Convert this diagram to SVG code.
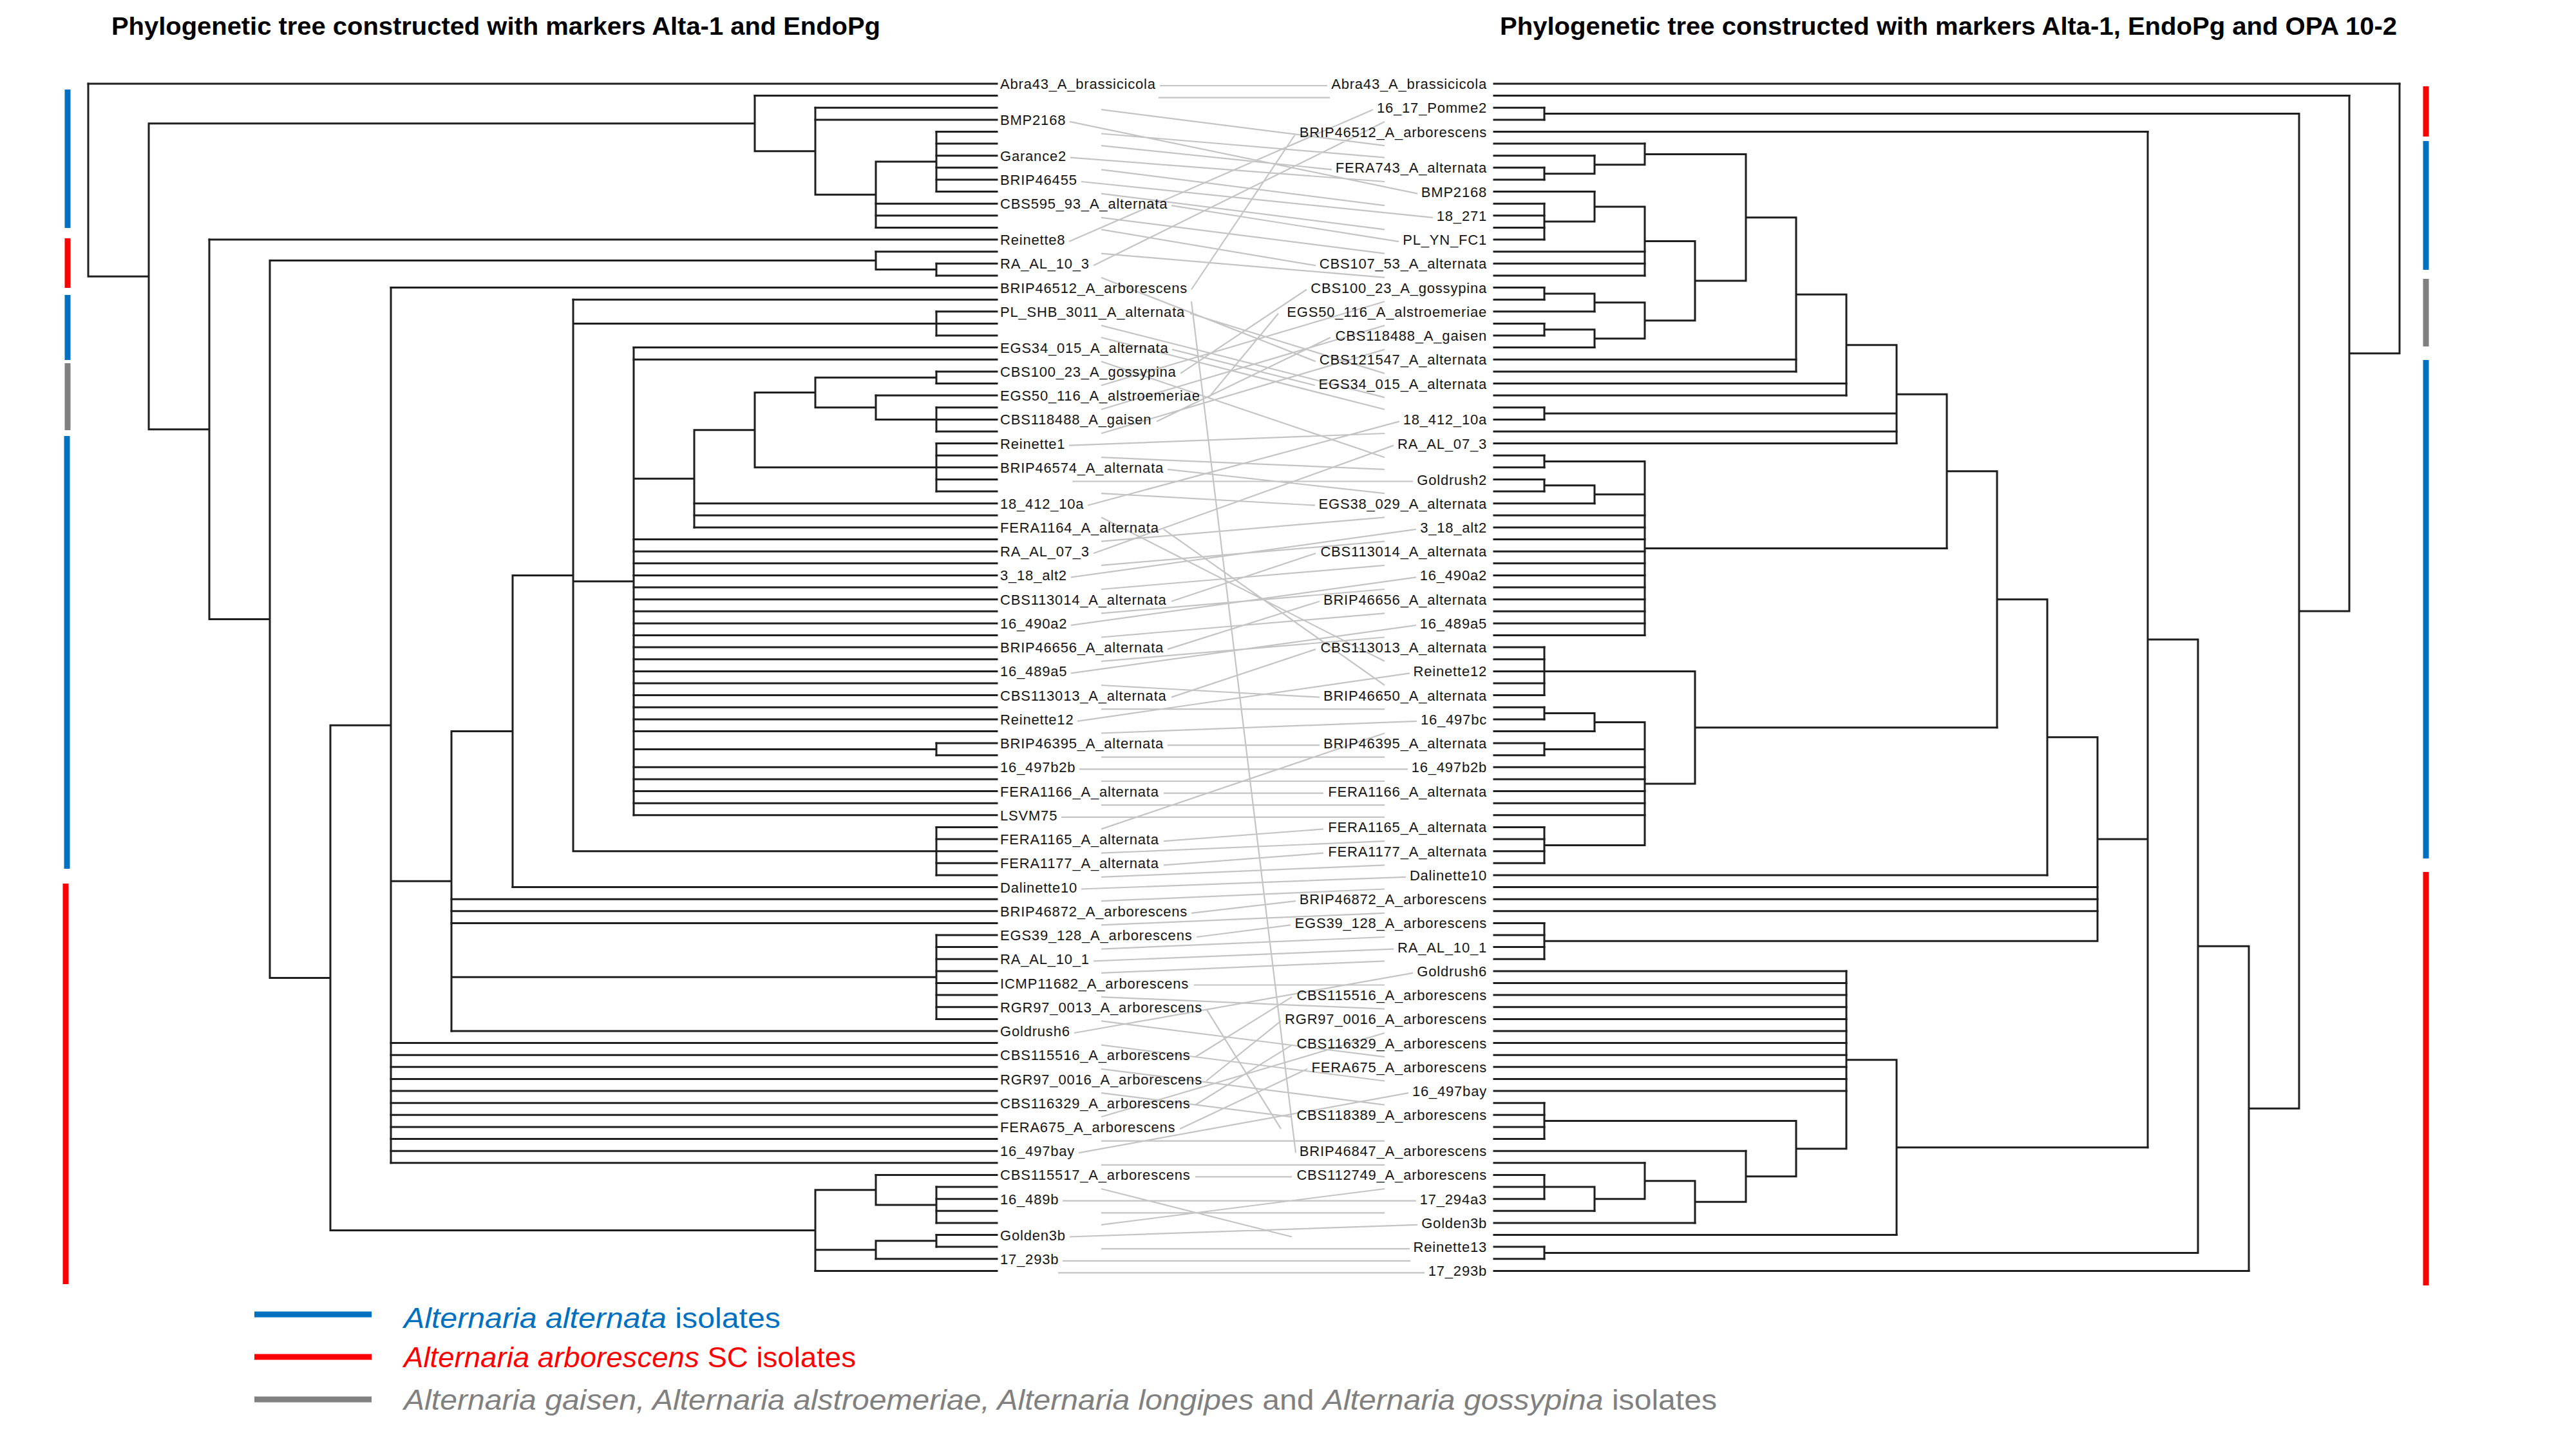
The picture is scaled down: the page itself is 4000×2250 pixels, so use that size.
<svg xmlns="http://www.w3.org/2000/svg" width="4000" height="2250" viewBox="0 0 4000 2250">
<style>
.tr{fill:none;stroke:#1e1e1e;stroke-width:3;stroke-linecap:square}
.cn{fill:none;stroke:#c4c4c4;stroke-width:2.2}
.lb{font-family:"Liberation Sans",Arial,sans-serif;font-size:22px;letter-spacing:0.8px;fill:#141414}
.rl{text-anchor:end}
.ttl{font-family:"Liberation Sans",Arial,sans-serif;font-weight:bold;font-size:38px;fill:#000}
.lg{font-family:"Liberation Sans",Arial,sans-serif;font-size:44px}
.it{font-style:italic}
.bar{stroke-width:9;fill:none}
.blue{stroke:#0070C0}.red{stroke:#FF0000}.grey{stroke:#808080}
</style>
<rect width="4000" height="2250" fill="#fff"/>
<g id="titles">
<text class="ttl" x="173" y="54" textLength="1194" lengthAdjust="spacingAndGlyphs">Phylogenetic tree constructed with markers Alta-1 and EndoPg</text>
<text class="ttl" x="2329" y="54" textLength="1393" lengthAdjust="spacingAndGlyphs">Phylogenetic tree constructed with markers Alta-1, EndoPg and OPA 10-2</text>
</g>
<g id="connectors" class="cn">
<path d="M1801 133L2061 133M1799 151.6L2065 151.6M1710 170.2L2150 226.1M1661 188.9L2201 300.6M1710 207.5L2150 244.7M1710 226.1L2068 263.3M1662 244.7L2150 282M1710 263.3L2150 319.2M1679 282L2225 337.8M1710 300.6L2150 356.4M1819 319.2L2172 375.1M1710 337.8L2150 393.7M1710 356.4L2043 412.3M1660 375.1L2132 170.2M1710 393.7L2150 430.9M1698 412.3L2150 188.9M1710 430.9L2043 561.3M1850 449.5L2012 207.5M1850 468.2L2012 1790.2M1848 486.8L2150 579.9M1710 505.4L2150 617.1M1710 524L2150 635.7M1820 542.6L2042 598.5M1710 561.3L2150 710.2M1833 579.9L2029 449.5M1710 598.5L2150 468.2M1877 617.1L1985 486.8M1710 635.7L2150 505.4M1796 654.4L2066 524M1710 673L2150 542.6M1660 691.6L2150 673M1710 710.2L2150 728.8M1813 728.8L2150 766.1M1665 747.5L2194 747.5M1710 766.1L2042 784.7M1689 784.7L2173 654.4M1710 803.3L2150 1026.8M1807 821.9L2150 1064M1710 840.6L2150 803.3M1698 859.2L2164 691.6M1710 877.8L2150 840.6M1663 896.4L2199 821.9M1710 915L2150 877.8M1819 933.7L2043 859.2M1710 952.3L2150 915M1663 970.9L2199 896.4M1710 989.5L2150 952.3M1813 1008.1L2049 933.7M1710 1026.8L2150 989.5M1663 1045.4L2199 970.9M1710 1064L2049 1082.6M1819 1082.6L2043 1008.1M1710 1101.2L2150 1101.2M1673 1119.9L2189 1045.4M1710 1138.5L2200 1119.9M1813 1157.1L2049 1157.1M1710 1175.7L2150 1175.7M1676 1194.3L2186 1194.3M1710 1213L2150 1213M1807 1231.6L2055 1231.6M1710 1250.2L2150 1250.2M1648 1268.8L2150 1268.8M1710 1287.4L2150 1138.5M1807 1306.1L2055 1287.4M1710 1324.7L2150 1306.1M1807 1343.3L2055 1324.7M1710 1361.9L2150 1343.3M1679 1380.5L2183 1361.9M1710 1399.2L2150 1380.5M1850 1417.8L2012 1399.2M1710 1436.4L2150 1417.8M1858 1455L2004 1436.4M1710 1473.6L2150 1455M1698 1492.3L2164 1473.6M1710 1510.9L2150 1492.3M1854 1529.5L2150 1529.5M1710 1548.1L2150 1566.7M1873 1566.7L1989 1752.9M1710 1585.4L2150 1641.2M1668 1604L2194 1510.9M1710 1622.6L2150 1678.5M1856 1641.2L2006 1548.1M1710 1659.8L2150 1715.7M1873 1678.5L1989 1585.4M1710 1697.1L2006 1734.3M1856 1715.7L2006 1622.6M1710 1734.3L2150 1604M1832 1752.9L2030 1659.8M1710 1771.6L2150 1771.6M1675 1790.2L2187 1697.1M1710 1808.8L2150 1808.8M1856 1827.4L2006 1827.4M1710 1846L2006 1920.5M1650 1864.7L2199 1864.7M1710 1883.3L2150 1883.3M1710 1901.9L2150 1846M1661 1920.5L2201 1901.9M1710 1939.1L2189 1939.1M1650 1957.8L2190 1957.8M1643 1976.4L2212 1976.4"/>
</g>
<g id="left-tree" class="tr">
<path d="M137 130H1548M1172 148.6H1548M1266 167.2H1548M1266 185.9H1548M1454 204.5H1548M1454 223.1H1548M1454 241.7H1548M1454 260.3H1548M1454 279H1548M1454 297.6H1548M1360 316.2H1548M1360 334.8H1548M1360 353.4H1548M325 372.1H1548M1360 390.7H1548M1454 409.3H1548M1454 427.9H1548M607 446.5H1548M890 465.2H1548M1454 483.8H1548M1454 502.4H1548M1454 521H1548M984 539.6H1548M984 558.3H1548M1454 576.9H1548M1454 595.5H1548M1360 614.1H1548M1454 632.7H1548M1454 651.4H1548M1454 670H1548M1454 688.6H1548M1454 707.2H1548M1454 725.8H1548M1454 744.5H1548M1454 763.1H1548M1078 781.7H1548M1078 800.3H1548M1078 818.9H1548"/>
<path d="M984 837.6H1548M984 856.2H1548M984 874.8H1548M984 893.4H1548M984 912H1548M984 930.7H1548M984 949.3H1548M984 967.9H1548M984 986.5H1548M984 1005.1H1548M984 1023.8H1548M984 1042.4H1548M984 1061H1548M984 1079.6H1548M984 1098.2H1548M984 1116.9H1548M984 1135.5H1548M1454 1154.1H1548M1454 1172.7H1548M984 1191.3H1548M984 1210H1548M984 1228.6H1548M984 1247.2H1548M984 1265.8H1548M1454 1284.4H1548M1454 1303.1H1548M1454 1321.7H1548M1454 1340.3H1548M1454 1358.9H1548M796 1377.5H1548M701 1396.2H1548M701 1414.8H1548M701 1433.4H1548"/>
<path d="M1454 1452H1548M1454 1470.6H1548M1454 1489.3H1548M1454 1507.9H1548M1454 1526.5H1548M1454 1545.1H1548M1454 1563.7H1548M1454 1582.4H1548M701 1601H1548M607 1619.6H1548M607 1638.2H1548M607 1656.8H1548M607 1675.5H1548M607 1694.1H1548M607 1712.7H1548M607 1731.3H1548M607 1749.9H1548M607 1768.6H1548M607 1787.2H1548M607 1805.8H1548M1360 1824.4H1548M1454 1843H1548M1454 1861.7H1548M1454 1880.3H1548M1454 1898.9H1548M1454 1917.5H1548M1454 1936.1H1548M1360 1954.8H1548M1266 1973.4H1548"/>
<path d="M137 130V429.2M137 429.2H231M231 191.7V666.8M231 191.7H1172M1172 148.6V234.7M1172 234.7H1266M1266 167.2V302.2M1266 302.2H1360M1360 251V353.4M1360 251H1454M1454 204.5V297.6M231 666.8H325M325 372.1V961.5M325 961.5H419M419 404.6V1518.4M419 404.6H1360M1360 390.7V418.6M1360 418.6H1454M1454 409.3V427.9M419 1518.4H513M513 1126.2V1910.5M513 1126.2H607M607 446.5V1805.8M607 1368.2H701M701 1135.5V1601M701 1135.5H796M796 893.4V1377.5M796 893.4H890M890 465.2V1321.7M890 502.4H1454M1454 483.8V521M890 902.7H984M984 539.6V1265.8M984 743.3H1078M1078 667.7V818.9M1078 667.7H1172M1172 609.5V725.8M1172 609.5H1266M1266 586.2V632.7M1266 586.2H1454M1454 576.9V595.5M1266 632.7H1360M1360 614.1V651.4M1360 651.4H1454M1454 632.7V670M1172 725.8H1454M1454 688.6V763.1M984 1163.4H1454M1454 1154.1V1172.7M890 1321.7H1454M1454 1284.4V1358.9M701 1517.2H1454M1454 1452V1582.4M513 1910.5H1266M1266 1847.7V1973.4M1266 1847.7H1360M1360 1824.4V1871M1360 1871H1454M1454 1843V1898.9M1266 1940.8H1360M1360 1926.8V1954.8M1360 1926.8H1454M1454 1917.5V1936.1"/>
</g>
<g id="right-tree" class="tr">
<path d="M2320 130H3726M2320 148.6H3648M2320 167.2H2398M2320 185.9H2398M2320 204.5H3335M2320 223.1H2554M2320 241.7H2476M2320 260.3H2398M2320 279H2398M2320 297.6H2476M2320 316.2H2398M2320 334.8H2398M2320 353.4H2398M2320 372.1H2398M2320 390.7H2554M2320 409.3H2554M2320 427.9H2554M2320 446.5H2398M2320 465.2H2398M2320 483.8H2476M2320 502.4H2398M2320 521H2398M2320 539.6H2476M2320 558.3H2789M2320 576.9H2789M2320 595.5H2867M2320 614.1H2867M2320 632.7H2398M2320 651.4H2398M2320 670H2945M2320 688.6H2945M2320 707.2H2398M2320 725.8H2398M2320 744.5H2398M2320 763.1H2398M2320 781.7H2476"/>
<path d="M2320 800.3H2554M2320 818.9H2554M2320 837.6H2554M2320 856.2H2554M2320 874.8H2554M2320 893.4H2554M2320 912H2554M2320 930.7H2554M2320 949.3H2554M2320 967.9H2554M2320 986.5H2554M2320 1005.1H2398M2320 1023.8H2398M2320 1042.4H2398M2320 1061H2398M2320 1079.6H2398M2320 1098.2H2398M2320 1116.9H2398M2320 1135.5H2476M2320 1154.1H2398M2320 1172.7H2398M2320 1191.3H2554M2320 1210H2554M2320 1228.6H2554M2320 1247.2H2554M2320 1265.8H2554M2320 1284.4H2398M2320 1303.1H2398M2320 1321.7H2398M2320 1340.3H2398M2320 1358.9H3179M2320 1377.5H3257M2320 1396.2H3257M2320 1414.8H3257M2320 1433.4H2398M2320 1452H2398M2320 1470.6H2398M2320 1489.3H2398"/>
<path d="M2320 1507.9H2867M2320 1526.5H2867M2320 1545.1H2867M2320 1563.7H2867M2320 1582.4H2867M2320 1601H2867M2320 1619.6H2867M2320 1638.2H2867M2320 1656.8H2867M2320 1675.5H2867M2320 1694.1H2867M2320 1712.7H2398M2320 1731.3H2398M2320 1749.9H2398M2320 1768.6H2398M2320 1787.2H2711M2320 1805.8H2554M2320 1824.4H2398M2320 1843H2398M2320 1861.7H2398M2320 1880.3H2476M2320 1898.9H2632M2320 1917.5H2945M2320 1936.1H2398M2320 1954.8H2398M2320 1973.4H3492"/>
<path d="M3726 130V548.8M3648 548.8H3726M3648 148.6V948.9M3570 948.9H3648M3570 176.6V1721.3M2398 176.6H3570M2398 167.2V185.9M3492 1721.3H3570M3492 1469.3V1973.4M3413 1469.3H3492M3413 993V1945.5M2398 1945.5H3413M2398 1936.1V1954.8M3335 993H3413M3335 204.5V1781.7M3257 1303.1H3335M3257 1144.8V1461.3M2398 1461.3H3257M2398 1433.4V1489.3M3179 1144.8H3257M3179 930.7V1358.9M3101 930.7H3179M3101 731.8V1129.7M3023 731.8H3101M3023 612.2V851.5M2945 612.2H3023M2945 535.7V688.6M2398 642.1H2945M2398 632.7V651.4M2867 535.7H2945M2867 457.3V614.1M2789 457.3H2867M2789 337.7V576.9M2711 337.7H2789M2711 239.4V436.1M2554 239.4H2711M2554 223.1V255.7M2476 255.7H2554M2476 241.7V269.7M2398 269.7H2476M2398 260.3V279M2632 436.1H2711M2632 374.4V497.7M2554 374.4H2632M2554 320.9V427.9M2476 320.9H2554M2476 297.6V344.1M2398 344.1H2476M2398 316.2V372.1M2554 497.7H2632M2554 469.8V525.7M2476 469.8H2554M2476 455.9V483.8M2398 455.9H2476M2398 446.5V465.2M2476 525.7H2554M2476 511.7V539.6M2398 511.7H2476M2398 502.4V521"/>
<path d="M2554 851.5H3023M2554 716.5V986.5M2398 716.5H2554M2398 707.2V725.8M2476 767.7H2554M2476 753.8V781.7M2398 753.8H2476M2398 744.5V763.1M2632 1129.7H3101M2632 1042.4V1216.9M2398 1042.4H2632M2398 1005.1V1079.6M2554 1216.9H2632M2554 1121.5V1312.4M2476 1121.5H2554M2476 1107.6V1135.5M2398 1107.6H2476M2398 1098.2V1116.9M2398 1163.4H2554M2398 1154.1V1172.7M2398 1312.4H2554M2398 1284.4V1340.3M2945 1781.7H3335M2945 1645.8V1917.5M2867 1645.8H2945M2867 1507.9V1783.7M2789 1783.7H2867M2789 1740.6V1826.7M2398 1740.6H2789M2398 1712.7V1768.6M2711 1826.7H2789M2711 1787.2V1866.3M2632 1866.3H2711M2632 1833.7V1898.9M2554 1833.7H2632M2554 1805.8V1861.7M2476 1861.7H2554M2476 1843V1880.3M2398 1843H2476M2398 1824.4V1861.7"/>
</g>
<g id="left-labels" class="lb">
<text id="L00" x="1553" y="138">Abra43_A_brassicicola</text>
<text id="L03" x="1553" y="193.9">BMP2168</text>
<text id="L06" x="1553" y="249.7">Garance2</text>
<text id="L08" x="1553" y="287">BRIP46455</text>
<text id="L10" x="1553" y="324.2">CBS595_93_A_alternata</text>
<text id="L13" x="1553" y="380.1">Reinette8</text>
<text id="L15" x="1553" y="417.3">RA_AL_10_3</text>
<text id="L17" x="1553" y="454.5">BRIP46512_A_arborescens</text>
<text id="L19" x="1553" y="491.8">PL_SHB_3011_A_alternata</text>
<text id="L22" x="1553" y="547.6">EGS34_015_A_alternata</text>
<text id="L24" x="1553" y="584.9">CBS100_23_A_gossypina</text>
<text id="L26" x="1553" y="622.1">EGS50_116_A_alstroemeriae</text>
<text id="L28" x="1553" y="659.4">CBS118488_A_gaisen</text>
<text id="L30" x="1553" y="696.6">Reinette1</text>
<text id="L32" x="1553" y="733.8">BRIP46574_A_alternata</text>
<text id="L35" x="1553" y="789.7">18_412_10a</text>
<text id="L37" x="1553" y="826.9">FERA1164_A_alternata</text>
<text id="L39" x="1553" y="864.2">RA_AL_07_3</text>
<text id="L41" x="1553" y="901.4">3_18_alt2</text>
<text id="L43" x="1553" y="938.7">CBS113014_A_alternata</text>
<text id="L45" x="1553" y="975.9">16_490a2</text>
<text id="L47" x="1553" y="1013.1">BRIP46656_A_alternata</text>
<text id="L49" x="1553" y="1050.4">16_489a5</text>
<text id="L51" x="1553" y="1087.6">CBS113013_A_alternata</text>
<text id="L53" x="1553" y="1124.9">Reinette12</text>
<text id="L55" x="1553" y="1162.1">BRIP46395_A_alternata</text>
<text id="L57" x="1553" y="1199.3">16_497b2b</text>
<text id="L59" x="1553" y="1236.6">FERA1166_A_alternata</text>
<text id="L61" x="1553" y="1273.8">LSVM75</text>
<text id="L63" x="1553" y="1311.1">FERA1165_A_alternata</text>
<text id="L65" x="1553" y="1348.3">FERA1177_A_alternata</text>
<text id="L67" x="1553" y="1385.5">Dalinette10</text>
<text id="L69" x="1553" y="1422.8">BRIP46872_A_arborescens</text>
<text id="L71" x="1553" y="1460">EGS39_128_A_arborescens</text>
<text id="L73" x="1553" y="1497.3">RA_AL_10_1</text>
<text id="L75" x="1553" y="1534.5">ICMP11682_A_arborescens</text>
<text id="L77" x="1553" y="1571.7">RGR97_0013_A_arborescens</text>
<text id="L79" x="1553" y="1609">Goldrush6</text>
<text id="L81" x="1553" y="1646.2">CBS115516_A_arborescens</text>
<text id="L83" x="1553" y="1683.5">RGR97_0016_A_arborescens</text>
<text id="L85" x="1553" y="1720.7">CBS116329_A_arborescens</text>
<text id="L87" x="1553" y="1757.9">FERA675_A_arborescens</text>
<text id="L89" x="1553" y="1795.2">16_497bay</text>
<text id="L91" x="1553" y="1832.4">CBS115517_A_arborescens</text>
<text id="L93" x="1553" y="1869.7">16_489b</text>
<text id="L96" x="1553" y="1925.5">Golden3b</text>
<text id="L98" x="1553" y="1962.8">17_293b</text>
</g>
<g id="right-labels" class="lb rl">
<text id="R00" x="2309" y="138">Abra43_A_brassicicola</text>
<text id="R02" x="2309" y="175.2">16_17_Pomme2</text>
<text id="R04" x="2309" y="212.5">BRIP46512_A_arborescens</text>
<text id="R07" x="2309" y="268.3">FERA743_A_alternata</text>
<text id="R09" x="2309" y="305.6">BMP2168</text>
<text id="R11" x="2309" y="342.8">18_271</text>
<text id="R13" x="2309" y="380.1">PL_YN_FC1</text>
<text id="R15" x="2309" y="417.3">CBS107_53_A_alternata</text>
<text id="R17" x="2309" y="454.5">CBS100_23_A_gossypina</text>
<text id="R19" x="2309" y="491.8">EGS50_116_A_alstroemeriae</text>
<text id="R21" x="2309" y="529">CBS118488_A_gaisen</text>
<text id="R23" x="2309" y="566.3">CBS121547_A_alternata</text>
<text id="R25" x="2309" y="603.5">EGS34_015_A_alternata</text>
<text id="R28" x="2309" y="659.4">18_412_10a</text>
<text id="R30" x="2309" y="696.6">RA_AL_07_3</text>
<text id="R33" x="2309" y="752.5">Goldrush2</text>
<text id="R35" x="2309" y="789.7">EGS38_029_A_alternata</text>
<text id="R37" x="2309" y="826.9">3_18_alt2</text>
<text id="R39" x="2309" y="864.2">CBS113014_A_alternata</text>
<text id="R41" x="2309" y="901.4">16_490a2</text>
<text id="R43" x="2309" y="938.7">BRIP46656_A_alternata</text>
<text id="R45" x="2309" y="975.9">16_489a5</text>
<text id="R47" x="2309" y="1013.1">CBS113013_A_alternata</text>
<text id="R49" x="2309" y="1050.4">Reinette12</text>
<text id="R51" x="2309" y="1087.6">BRIP46650_A_alternata</text>
<text id="R53" x="2309" y="1124.9">16_497bc</text>
<text id="R55" x="2309" y="1162.1">BRIP46395_A_alternata</text>
<text id="R57" x="2309" y="1199.3">16_497b2b</text>
<text id="R59" x="2309" y="1236.6">FERA1166_A_alternata</text>
<text id="R62" x="2309" y="1292.4">FERA1165_A_alternata</text>
<text id="R64" x="2309" y="1329.7">FERA1177_A_alternata</text>
<text id="R66" x="2309" y="1366.9">Dalinette10</text>
<text id="R68" x="2309" y="1404.2">BRIP46872_A_arborescens</text>
<text id="R70" x="2309" y="1441.4">EGS39_128_A_arborescens</text>
<text id="R72" x="2309" y="1478.6">RA_AL_10_1</text>
<text id="R74" x="2309" y="1515.9">Goldrush6</text>
<text id="R76" x="2309" y="1553.1">CBS115516_A_arborescens</text>
<text id="R78" x="2309" y="1590.4">RGR97_0016_A_arborescens</text>
<text id="R80" x="2309" y="1627.6">CBS116329_A_arborescens</text>
<text id="R82" x="2309" y="1664.8">FERA675_A_arborescens</text>
<text id="R84" x="2309" y="1702.1">16_497bay</text>
<text id="R86" x="2309" y="1739.3">CBS118389_A_arborescens</text>
<text id="R89" x="2309" y="1795.2">BRIP46847_A_arborescens</text>
<text id="R91" x="2309" y="1832.4">CBS112749_A_arborescens</text>
<text id="R93" x="2309" y="1869.7">17_294a3</text>
<text id="R95" x="2309" y="1906.9">Golden3b</text>
<text id="R97" x="2309" y="1944.1">Reinette13</text>
<text id="R99" x="2309" y="1981.4">17_293b</text>
</g>
<g id="left-bars" class="bar">
<path class="blue" d="M105 139V354"/>
<path class="red" d="M105 370V447"/>
<path class="blue" d="M105 458V559"/>
<path class="grey" d="M105 564V668"/>
<path class="blue" d="M104 677V1349"/>
<path class="red" d="M102 1372V1994"/>
</g>
<g id="right-bars" class="bar">
<path class="red" d="M3767 134V212"/>
<path class="blue" d="M3767 219V419"/>
<path class="grey" d="M3767 433V538"/>
<path class="blue" d="M3767 559V1333"/>
<path class="red" d="M3767 1354V1996"/>
</g>
<g id="legend">
<path class="bar blue" d="M395 2041H577" stroke-width="10"/>
<path class="bar red" d="M395 2107H577" stroke-width="10"/>
<path class="bar grey" d="M395 2173H577" stroke-width="10"/>
<text class="lg" x="627" y="2062" fill="#0070C0" textLength="585" lengthAdjust="spacingAndGlyphs"><tspan class="it">Alternaria alternata</tspan> isolates</text>
<text class="lg" x="627" y="2123" fill="#FF0000" textLength="702" lengthAdjust="spacingAndGlyphs"><tspan class="it">Alternaria arborescens</tspan> SC isolates</text>
<text class="lg" x="627" y="2189" fill="#808080" textLength="2039" lengthAdjust="spacingAndGlyphs"><tspan class="it">Alternaria gaisen, Alternaria alstroemeriae, Alternaria longipes</tspan> and <tspan class="it">Alternaria gossypina</tspan> isolates</text>
</g>
</svg>
